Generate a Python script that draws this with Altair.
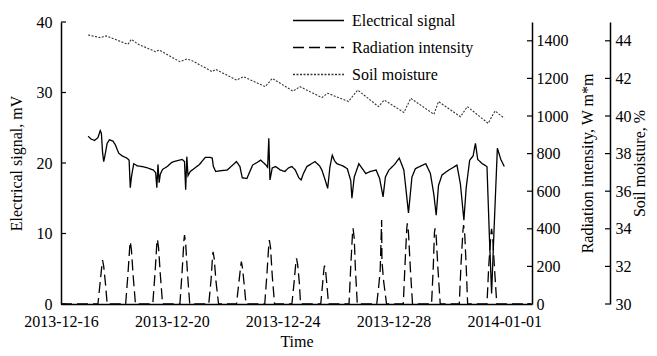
import altair as alt
import pandas as pd

FONT = "Liberation Serif"

series = ["Electrical signal", "Radiation intensity", "Soil moisture"]
series_colors = ["#000000", "#000000", "#333333"]
series_dashes = [[1, 0], [11, 5], [2, 1.5]]

x_start = "2013-12-16"
x_end = "2014-01-02"
x_tick_labels = ["2013-12-16", "2013-12-20", "2013-12-24", "2013-12-28", "2014-01-01"]

left_ticks = [0, 10, 20, 30, 40]
rad_ticks = [0, 200, 400, 600, 800, 1000, 1200, 1400]
soil_ticks = [30, 32, 34, 36, 38, 40, 42, 44]

# Electrical signal, mV
elec_time = [
    "2013-12-16 23:30", "2013-12-17 02:00", "2013-12-17 05:00", "2013-12-17 08:00", "2013-12-17 10:00",
    "2013-12-17 11:00", "2013-12-17 12:00", "2013-12-17 13:00", "2013-12-17 14:00", "2013-12-17 16:00",
    "2013-12-17 18:00", "2013-12-17 21:00", "2013-12-17 23:00", "2013-12-18 02:00", "2013-12-18 05:00",
    "2013-12-18 09:00", "2013-12-18 11:00", "2013-12-18 12:00", "2013-12-18 13:00", "2013-12-18 15:00",
    "2013-12-18 18:00", "2013-12-18 22:00", "2013-12-19 03:00", "2013-12-19 08:00", "2013-12-19 10:00",
    "2013-12-19 11:00", "2013-12-19 12:00", "2013-12-19 13:00", "2013-12-19 14:00", "2013-12-19 16:00",
    "2013-12-19 20:00", "2013-12-20 00:00", "2013-12-20 04:00", "2013-12-20 09:00", "2013-12-20 11:00",
    "2013-12-20 12:00", "2013-12-20 13:00", "2013-12-20 14:00", "2013-12-20 16:00", "2013-12-20 20:00",
    "2013-12-21 00:00", "2013-12-21 05:00", "2013-12-21 09:00", "2013-12-21 11:00", "2013-12-21 12:00",
    "2013-12-21 14:00", "2013-12-21 18:00", "2013-12-22 00:00", "2013-12-22 04:00", "2013-12-22 08:00",
    "2013-12-22 11:00", "2013-12-22 13:00", "2013-12-22 17:00", "2013-12-22 22:00", "2013-12-23 05:00",
    "2013-12-23 09:00", "2013-12-23 11:00", "2013-12-23 12:00", "2013-12-23 13:00", "2013-12-23 15:00",
    "2013-12-23 18:00", "2013-12-23 22:00", "2013-12-24 02:00", "2013-12-24 05:00", "2013-12-24 08:00",
    "2013-12-24 11:00", "2013-12-24 14:00", "2013-12-24 16:00", "2013-12-24 18:00", "2013-12-24 21:00",
    "2013-12-25 01:00", "2013-12-25 04:00", "2013-12-25 08:00", "2013-12-25 10:00", "2013-12-25 13:00",
    "2013-12-25 15:00", "2013-12-25 17:00", "2013-12-25 19:00", "2013-12-25 21:00", "2013-12-25 23:00",
    "2013-12-26 04:00", "2013-12-26 08:00", "2013-12-26 11:00", "2013-12-26 12:00", "2013-12-26 14:00",
    "2013-12-26 18:00", "2013-12-26 21:00", "2013-12-27 00:00", "2013-12-27 04:00", "2013-12-27 09:00",
    "2013-12-27 12:00", "2013-12-27 15:00", "2013-12-27 17:00", "2013-12-27 20:00", "2013-12-28 01:00",
    "2013-12-28 05:00", "2013-12-28 09:00", "2013-12-28 11:00", "2013-12-28 13:00", "2013-12-28 16:00",
    "2013-12-28 19:00", "2013-12-29 00:00", "2013-12-29 04:00", "2013-12-29 08:00", "2013-12-29 11:00",
    "2013-12-29 13:00", "2013-12-29 15:00", "2013-12-29 18:00", "2013-12-29 23:00", "2013-12-30 04:00",
    "2013-12-30 07:00", "2013-12-30 10:00", "2013-12-30 13:00", "2013-12-30 15:00", "2013-12-30 18:00",
    "2013-12-30 21:00", "2013-12-30 23:00", "2013-12-31 01:00", "2013-12-31 05:00", "2013-12-31 09:00",
    "2013-12-31 11:00", "2013-12-31 13:00", "2013-12-31 15:00", "2013-12-31 18:00", "2013-12-31 21:00",
    "2014-01-01 00:00",
]
elec_mv = [
    23.8, 23.4, 23.2, 23.6, 24.6,
    24.2, 21.5, 20.2, 21.0, 22.8,
    23.3, 23.1, 22.6, 21.4, 21.0,
    20.7, 20.4, 16.5, 18.0, 19.9,
    19.6, 19.5, 19.3, 19.0, 18.6,
    16.5, 19.8, 17.2, 18.4, 19.1,
    19.5, 20.1, 20.3, 20.5, 20.2,
    16.2, 20.9, 18.2, 18.8, 19.3,
    19.8, 20.8, 20.8, 20.7, 19.5,
    18.8, 18.9, 19.0, 19.6, 20.2,
    19.5, 17.9, 17.8, 19.7, 20.4,
    19.8, 19.4, 23.5, 17.6, 19.3,
    19.5, 19.0, 18.8, 19.3, 19.5,
    19.0, 17.9, 17.6, 18.5, 19.5,
    19.9, 20.2, 19.6, 19.0, 17.5,
    16.4, 19.5, 21.1, 20.3, 19.9,
    19.6, 19.2, 17.5, 15.0, 18.0,
    19.9, 19.2, 18.5, 18.8, 19.0,
    17.8, 15.2, 18.0, 19.0, 19.8,
    20.7, 19.0, 16.0, 12.9, 18.0,
    19.2, 19.6, 19.9, 18.5, 15.5,
    12.6, 16.8, 18.3, 18.9, 19.4,
    19.7, 17.0, 11.9, 16.5, 20.4,
    21.0, 22.8, 20.5, 19.9, 19.5,
    10.0, 1.5, 10.0, 22.1, 20.5,
    19.5,
]

# Radiation intensity, W m*m
rad_time = [
    "2013-12-16 00:00", "2013-12-17 08:00", "2013-12-17 10:00", "2013-12-17 11:30", "2013-12-17 12:00", "2013-12-17 13:00", "2013-12-17 14:30", "2013-12-17 16:00",
    "2013-12-18 08:00", "2013-12-18 10:00", "2013-12-18 11:30", "2013-12-18 12:00", "2013-12-18 13:00", "2013-12-18 14:30", "2013-12-18 16:30",
    "2013-12-19 07:30", "2013-12-19 09:30", "2013-12-19 11:00", "2013-12-19 11:30", "2013-12-19 12:30", "2013-12-19 14:00", "2013-12-19 16:00",
    "2013-12-20 07:00", "2013-12-20 09:00", "2013-12-20 10:30", "2013-12-20 11:00", "2013-12-20 12:00", "2013-12-20 13:30", "2013-12-20 15:30",
    "2013-12-21 08:00", "2013-12-21 10:00", "2013-12-21 11:15", "2013-12-21 11:45", "2013-12-21 12:45", "2013-12-21 14:15", "2013-12-21 16:30",
    "2013-12-22 08:00", "2013-12-22 10:00", "2013-12-22 11:45", "2013-12-22 12:15", "2013-12-22 13:15", "2013-12-22 14:45", "2013-12-22 16:15",
    "2013-12-23 08:30", "2013-12-23 10:30", "2013-12-23 12:00", "2013-12-23 12:30", "2013-12-23 13:30", "2013-12-23 15:00", "2013-12-23 17:00",
    "2013-12-24 08:00", "2013-12-24 10:00", "2013-12-24 11:30", "2013-12-24 12:00", "2013-12-24 13:00", "2013-12-24 14:30", "2013-12-24 15:30",
    "2013-12-25 09:00", "2013-12-25 10:30", "2013-12-25 11:45", "2013-12-25 12:15", "2013-12-25 13:15", "2013-12-25 14:30", "2013-12-25 15:45",
    "2013-12-26 09:30", "2013-12-26 11:00", "2013-12-26 12:30", "2013-12-26 13:00", "2013-12-26 14:00", "2013-12-26 15:00", "2013-12-26 16:40",
    "2013-12-27 09:30", "2013-12-27 11:00", "2013-12-27 12:30", "2013-12-27 13:45", "2013-12-27 14:00", "2013-12-27 15:30", "2013-12-27 18:00",
    "2013-12-28 08:30", "2013-12-28 10:00", "2013-12-28 11:30", "2013-12-28 12:00", "2013-12-28 13:00", "2013-12-28 14:30", "2013-12-28 16:30",
    "2013-12-29 09:00", "2013-12-29 10:30", "2013-12-29 11:30", "2013-12-29 12:00", "2013-12-29 13:00", "2013-12-29 14:30", "2013-12-29 16:30",
    "2013-12-30 09:00", "2013-12-30 10:30", "2013-12-30 12:15", "2013-12-30 12:45", "2013-12-30 13:45", "2013-12-30 15:00", "2013-12-30 16:15",
    "2013-12-31 09:00", "2013-12-31 10:30", "2013-12-31 12:30", "2013-12-31 13:00", "2013-12-31 14:00", "2013-12-31 15:30", "2013-12-31 17:30",
    "2014-01-01 23:00",
]
rad_wm2 = [
    0, 0, 120, 210, 234, 200, 110, 0,
    0, 160, 300, 331, 290, 150, 0,
    0, 170, 320, 344, 300, 160, 0,
    0, 180, 340, 367, 320, 170, 0,
    0, 130, 250, 278, 240, 120, 0,
    0, 110, 205, 225, 190, 100, 0,
    0, 170, 315, 340, 300, 150, 0,
    0, 120, 225, 243, 210, 110, 0,
    0, 100, 185, 204, 175, 90, 0,
    0, 200, 375, 403, 350, 190, 0,
    0, 80, 180, 447, 230, 120, 0,
    0, 210, 400, 429, 380, 200, 0,
    0, 200, 380, 403, 360, 190, 0,
    0, 210, 395, 420, 370, 200, 0,
    0, 200, 375, 400, 350, 190, 0,
    0,
]

# Soil moisture, %
soil_time = [
    "2013-12-16 23:30", "2013-12-17 10:00", "2013-12-17 15:00", "2013-12-18 10:00", "2013-12-18 13:00",
    "2013-12-18 19:00", "2013-12-19 10:00", "2013-12-19 13:00", "2013-12-20 07:00", "2013-12-20 13:00",
    "2013-12-20 17:00", "2013-12-21 11:00", "2013-12-21 14:00", "2013-12-22 08:00", "2013-12-22 14:00",
    "2013-12-23 09:00", "2013-12-23 15:00", "2013-12-24 09:00", "2013-12-24 15:00", "2013-12-25 10:00",
    "2013-12-25 15:00", "2013-12-26 09:00", "2013-12-26 17:00", "2013-12-27 11:00", "2013-12-27 16:00",
    "2013-12-28 09:00", "2013-12-28 15:00", "2013-12-29 11:00", "2013-12-29 15:00", "2013-12-30 10:00",
    "2013-12-30 16:00", "2013-12-31 10:00", "2013-12-31 16:00", "2014-01-01 00:00",
]
soil_pct = [
    44.31, 44.17, 44.26, 43.81, 44.08,
    43.81, 43.42, 43.51, 42.89, 43.03,
    42.96, 42.36, 42.48, 41.91, 42.09,
    41.56, 42.00, 41.32, 41.56, 40.98,
    41.21, 40.77, 41.38, 40.50, 40.85,
    40.19, 40.94, 40.09, 40.77, 39.96,
    40.50, 39.61, 40.27, 39.88,
]


def dt(s):
    y, m, d = (int(p) for p in s.split("-"))
    return alt.DateTime(year=y, month=m, date=d)


elec_df = pd.DataFrame({"time": pd.to_datetime(elec_time), "value": elec_mv, "series": series[0]})
rad_df = pd.DataFrame({"time": pd.to_datetime(rad_time), "value": rad_wm2, "series": series[1]})
soil_df = pd.DataFrame({"time": pd.to_datetime(soil_time), "value": soil_pct, "series": series[2]})

W, H = 471, 282
SOIL_OFFSET = 78
TICK = 5

x_enc = alt.X(
    "time:T",
    scale=alt.Scale(domain=[dt(x_start), dt(x_end)]),
    axis=alt.Axis(
        values=[dt(s) for s in x_tick_labels], format="%Y-%m-%d", title="Time",
        ticks=False, labelPadding=9, titlePadding=4, grid=False,
        labelOverlap=False, labelFlush=False, domainColor="black", domainWidth=1.5,
    ),
)

# legend sample line: a long horizontal custom path on a small symbol size
legend = alt.Legend(
    title=None, orient="none", legendX=244, legendY=-15,
    symbolType="M-2,0H2", symbolSize=650, symbolStrokeWidth=1.4,
    labelFont=FONT, labelFontSize=16, labelColor="black", labelOffset=20,
    rowPadding=5,
)
color_enc = alt.Color("series:N", scale=alt.Scale(domain=series, range=series_colors), legend=legend)
dash_enc = alt.StrokeDash("series:N", scale=alt.Scale(domain=series, range=series_dashes), legend=legend)

common_axis = dict(ticks=False, grid=False, domainColor="black", domainWidth=1.5, format="d",
                   labelFont=FONT, labelFontSize=16, labelColor="black",
                   titleFont=FONT, titleFontSize=16, titleColor="black", titleFontWeight="normal")

elec_scale = alt.Scale(domain=[0, 40], nice=False)
rad_scale = alt.Scale(domain=[0, 1500], nice=False)
soil_scale = alt.Scale(domain=[30, 45], nice=False)

elec_axis = alt.Axis(title="Electrical signal, mV", values=left_ticks, orient="left",
                     labelPadding=9, titlePadding=12, **common_axis)
rad_axis = alt.Axis(title="Radiation intensity, W m*m", values=rad_ticks, orient="right",
                    labelPadding=4, titlePadding=27, titleAngle=270, **common_axis)
soil_axis = alt.Axis(title="Soil moisture, %", values=soil_ticks, orient="right", offset=SOIL_OFFSET,
                     labelPadding=5, titlePadding=16, titleAngle=270, **common_axis)

elec_line = alt.Chart(elec_df).mark_line(strokeWidth=1.3).encode(
    x=x_enc,
    y=alt.Y("value:Q", scale=elec_scale, axis=elec_axis),
    color=color_enc, strokeDash=dash_enc,
)
elec_tick = alt.Chart(pd.DataFrame({"value": left_ticks})).mark_rule(color="black", strokeWidth=1.2).encode(
    y=alt.Y("value:Q", scale=elec_scale, axis=elec_axis),
    x=alt.value(0), x2=alt.value(TICK),
)

rad_line = alt.Chart(rad_df).mark_line(strokeWidth=1.3).encode(
    x=x_enc,
    y=alt.Y("value:Q", scale=rad_scale, axis=rad_axis),
    color=color_enc, strokeDash=dash_enc,
)
rad_tick = alt.Chart(pd.DataFrame({"value": rad_ticks})).mark_rule(color="black", strokeWidth=1.2).encode(
    y=alt.Y("value:Q", scale=rad_scale, axis=rad_axis),
    x=alt.value(W), x2=alt.value(W - TICK),
)

soil_line = alt.Chart(soil_df).mark_line(strokeWidth=1.1).encode(
    x=x_enc,
    y=alt.Y("value:Q", scale=soil_scale, axis=soil_axis),
    color=color_enc, strokeDash=dash_enc,
)
soil_tick = alt.Chart(pd.DataFrame({"value": soil_ticks})).mark_rule(color="black", strokeWidth=1.2).encode(
    y=alt.Y("value:Q", scale=soil_scale, axis=soil_axis),
    x=alt.value(W + SOIL_OFFSET), x2=alt.value(W + SOIL_OFFSET - TICK),
)

chart = alt.layer(
    alt.layer(elec_line, elec_tick),
    alt.layer(rad_line, rad_tick),
    alt.layer(soil_line, soil_tick),
).resolve_scale(y="independent").properties(
    width=W, height=H,
    autosize=alt.AutoSizeParams(type="none"),
    padding={"left": 53, "top": 14, "right": 117, "bottom": 44},
    background="white",
).configure_view(stroke=None).configure_axis(
    labelFont=FONT, labelFontSize=16, labelColor="black",
    titleFont=FONT, titleFontSize=16, titleColor="black", titleFontWeight="normal",
)

chart.save("out.html", embed_options={"renderer": "svg", "actions": False})
